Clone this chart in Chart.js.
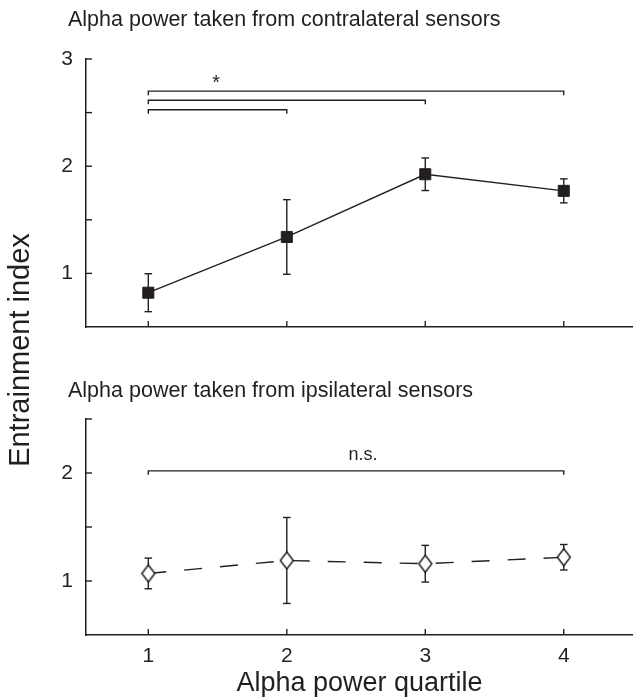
<!DOCTYPE html>
<html>
<head>
<meta charset="utf-8">
<script src="https://cdn.jsdelivr.net/npm/chart.js@4.4.1/dist/chart.umd.min.js"></script>
<style>
  html, body { margin: 0; padding: 0; background: #fff; overflow: hidden; }
  #wrap { position: relative; width: 633px; height: 697px; }
  #wrap canvas { position: absolute; left: 0; top: 0; }
</style>
</head>
<body>
<div id="wrap">
  <canvas id="contra" width="633" height="697"></canvas>
  <canvas id="ipsi" width="633" height="697"></canvas>
</div>
<script>
// values
const quartiles = [1, 2, 3, 4];
const contraMean = [0.82, 1.34, 1.925, 1.77];
const contraErr = [0.177, 0.348, 0.152, 0.112];
const ipsiMean = [1.07, 1.19, 1.16, 1.22];
const ipsiErr = [0.142, 0.398, 0.17, 0.118];

const contraYTicks = [1, 1.5, 2, 2.5, 3];
const ipsiYTicks = [1, 1.5, 2, 2.5];

// significance brackets: from quartile, to quartile, height
const contraBrFrom = [1, 1, 1];
const contraBrTo = [2, 3, 4];
const contraBrLevel = [2.527, 2.615, 2.70];
const ipsiBrFrom = [1];
const ipsiBrTo = [4];
const ipsiBrLevel = [2.02];

const ink = "#231f20";
const family = "'Liberation Sans', Arial, Helvetica, sans-serif";
Chart.defaults.font.family = family;
Chart.defaults.color = ink;

function line(ctx, x1, y1, x2, y2) {
  ctx.beginPath();
  ctx.moveTo(x1, y1);
  ctx.lineTo(x2, y2);
  ctx.stroke();
}

// hollow diamond marker (a bit taller than wide, like the original)
function diamondMarker(w, h) {
  const c = document.createElement("canvas");
  c.width = w + 3;
  c.height = h + 3;
  const g = c.getContext("2d");
  const cx = c.width / 2, cy = c.height / 2;
  g.beginPath();
  g.moveTo(cx, cy - h / 2);
  g.lineTo(cx + w / 2, cy);
  g.lineTo(cx, cy + h / 2);
  g.lineTo(cx - w / 2, cy);
  g.closePath();
  g.fillStyle = "#fff";
  g.fill();
  g.strokeStyle = ink;
  g.lineWidth = 1.5;
  g.stroke();
  return c;
}

const panelDecor = {
  id: "panelDecor",
  beforeDatasetsDraw(chart, args, opts) {
    const { ctx, scales: { x, y } } = chart;
    ctx.save();
    ctx.strokeStyle = ink;
    ctx.lineWidth = 1.4;
    // inward tick marks
    y.ticks.forEach(t => {
      const py = y.getPixelForValue(t.value);
      line(ctx, x.left, py, x.left + 6, py);
    });
    x.ticks.forEach(t => {
      const px = x.getPixelForValue(t.value);
      line(ctx, px, y.bottom, px, y.bottom - 6);
    });
    // error bars
    chart.data.datasets.forEach(ds => {
      ds.data.forEach((p, i) => {
        const e = ds.errors[i];
        const px = x.getPixelForValue(p.x);
        const top = y.getPixelForValue(p.y + e);
        const bot = y.getPixelForValue(p.y - e);
        line(ctx, px, top, px, bot);
        line(ctx, px - 3.8, top, px + 3.8, top);
        line(ctx, px - 3.8, bot, px + 3.8, bot);
      });
    });
    ctx.restore();
  },
  afterDatasetsDraw(chart, args, opts) {
    const { ctx, scales: { x, y } } = chart;
    ctx.save();
    ctx.strokeStyle = ink;
    ctx.fillStyle = ink;
    ctx.lineWidth = 1.4;
    opts.from.forEach((f, i) => {
      const x1 = x.getPixelForValue(f);
      const x2 = x.getPixelForValue(opts.to[i]);
      const py = y.getPixelForValue(opts.level[i]);
      ctx.beginPath();
      ctx.moveTo(x1, py + 4);
      ctx.lineTo(x1, py);
      ctx.lineTo(x2, py);
      ctx.lineTo(x2, py + 4);
      ctx.stroke();
    });
    ctx.font = opts.labelSize + "px " + family;
    ctx.textAlign = "center";
    ctx.textBaseline = "alphabetic";
    ctx.fillText(opts.label, x.getPixelForValue(opts.labelX), y.getPixelForValue(opts.labelY));

    // panel title, left aligned above the plot
    ctx.font = "21.5px " + family;
    ctx.textAlign = "left";
    ctx.textBaseline = "middle";
    ctx.fillText(opts.title, 68, opts.titleY);

    if (opts.yTitle) {
      ctx.translate(21, 350);
      ctx.rotate(-Math.PI / 2);
      ctx.font = "29px " + family;
      ctx.textAlign = "center";
      ctx.fillText(opts.yTitle, 0, 0);
    }
    ctx.restore();
  }
};

function makePanel(id, cfg) {
  return new Chart(document.getElementById(id), {
    type: "line",
    data: {
      datasets: [{
        data: quartiles.map((q, i) => ({ x: q, y: cfg.mean[i] })),
        errors: cfg.err,
        borderColor: ink,
        borderWidth: 1.4,
        borderDash: cfg.dash,
        pointStyle: cfg.pointStyle,
        pointRadius: cfg.pointRadius,
        pointBackgroundColor: ink,
        pointBorderColor: ink,
        pointBorderWidth: 1
      }]
    },
    options: {
      responsive: false,
      animation: false,
      layout: { autoPadding: false, padding: cfg.padding },
      plugins: {
        legend: { display: false },
        tooltip: { enabled: false },
        title: { display: false },
        panelDecor: cfg.decor
      },
      scales: {
        x: {
          type: "linear",
          min: 0.55,
          max: 4.5,
          afterBuildTicks: s => { s.ticks = quartiles.map(v => ({ value: v })); },
          ticks: { display: cfg.xLabels, padding: 9, color: ink, font: { size: 21 } },
          grid: { display: false, drawTicks: false },
          border: { color: ink, width: 1.5 },
          title: {
            display: cfg.xLabels,
            text: "Alpha power quartile",
            color: ink,
            font: { size: 27, lineHeight: 1 },
            padding: { top: 0, bottom: 0 }
          },
          afterFit: s => { s.height = cfg.xHeight; }
        },
        y: {
          min: 0.5,
          max: cfg.yMax,
          afterBuildTicks: s => { s.ticks = cfg.yTicks.map(v => ({ value: v })); },
          ticks: {
            callback: v => Number.isInteger(v) ? String(v) : "",
            padding: 13,
            color: ink,
            font: { size: 21 }
          },
          grid: { display: false, drawTicks: false },
          border: { color: ink, width: 1.5 },
          afterFit: s => { s.width = 86; }
        }
      }
    },
    plugins: [panelDecor]
  });
}

makePanel("contra", {
  mean: contraMean,
  err: contraErr,
  dash: [],
  pointStyle: "rect",
  pointRadius: 7.8,
  padding: { left: 0, right: 0, top: 59, bottom: 370 },
  xLabels: false,
  xHeight: 0,
  yMax: 3,
  yTicks: contraYTicks,
  decor: {
    from: contraBrFrom, to: contraBrTo, level: contraBrLevel,
    label: "*", labelX: 1.49, labelY: 2.72, labelSize: 20,
    title: "Alpha power taken from contralateral sensors", titleY: 20,
    yTitle: "Entrainment index"
  }
});

makePanel("ipsi", {
  mean: ipsiMean,
  err: ipsiErr,
  dash: [18, 18],
  pointStyle: diamondMarker(13, 17),
  pointRadius: 8,
  padding: { left: 0, right: 0, top: 419, bottom: 0 },
  xLabels: true,
  xHeight: 62,
  yMax: 2.5,
  yTicks: ipsiYTicks,
  decor: {
    from: ipsiBrFrom, to: ipsiBrTo, level: ipsiBrLevel,
    label: "n.s.", labelX: 2.55, labelY: 2.116, labelSize: 18,
    title: "Alpha power taken from ipsilateral sensors", titleY: 391,
    yTitle: ""
  }
});
</script>
</body>
</html>
